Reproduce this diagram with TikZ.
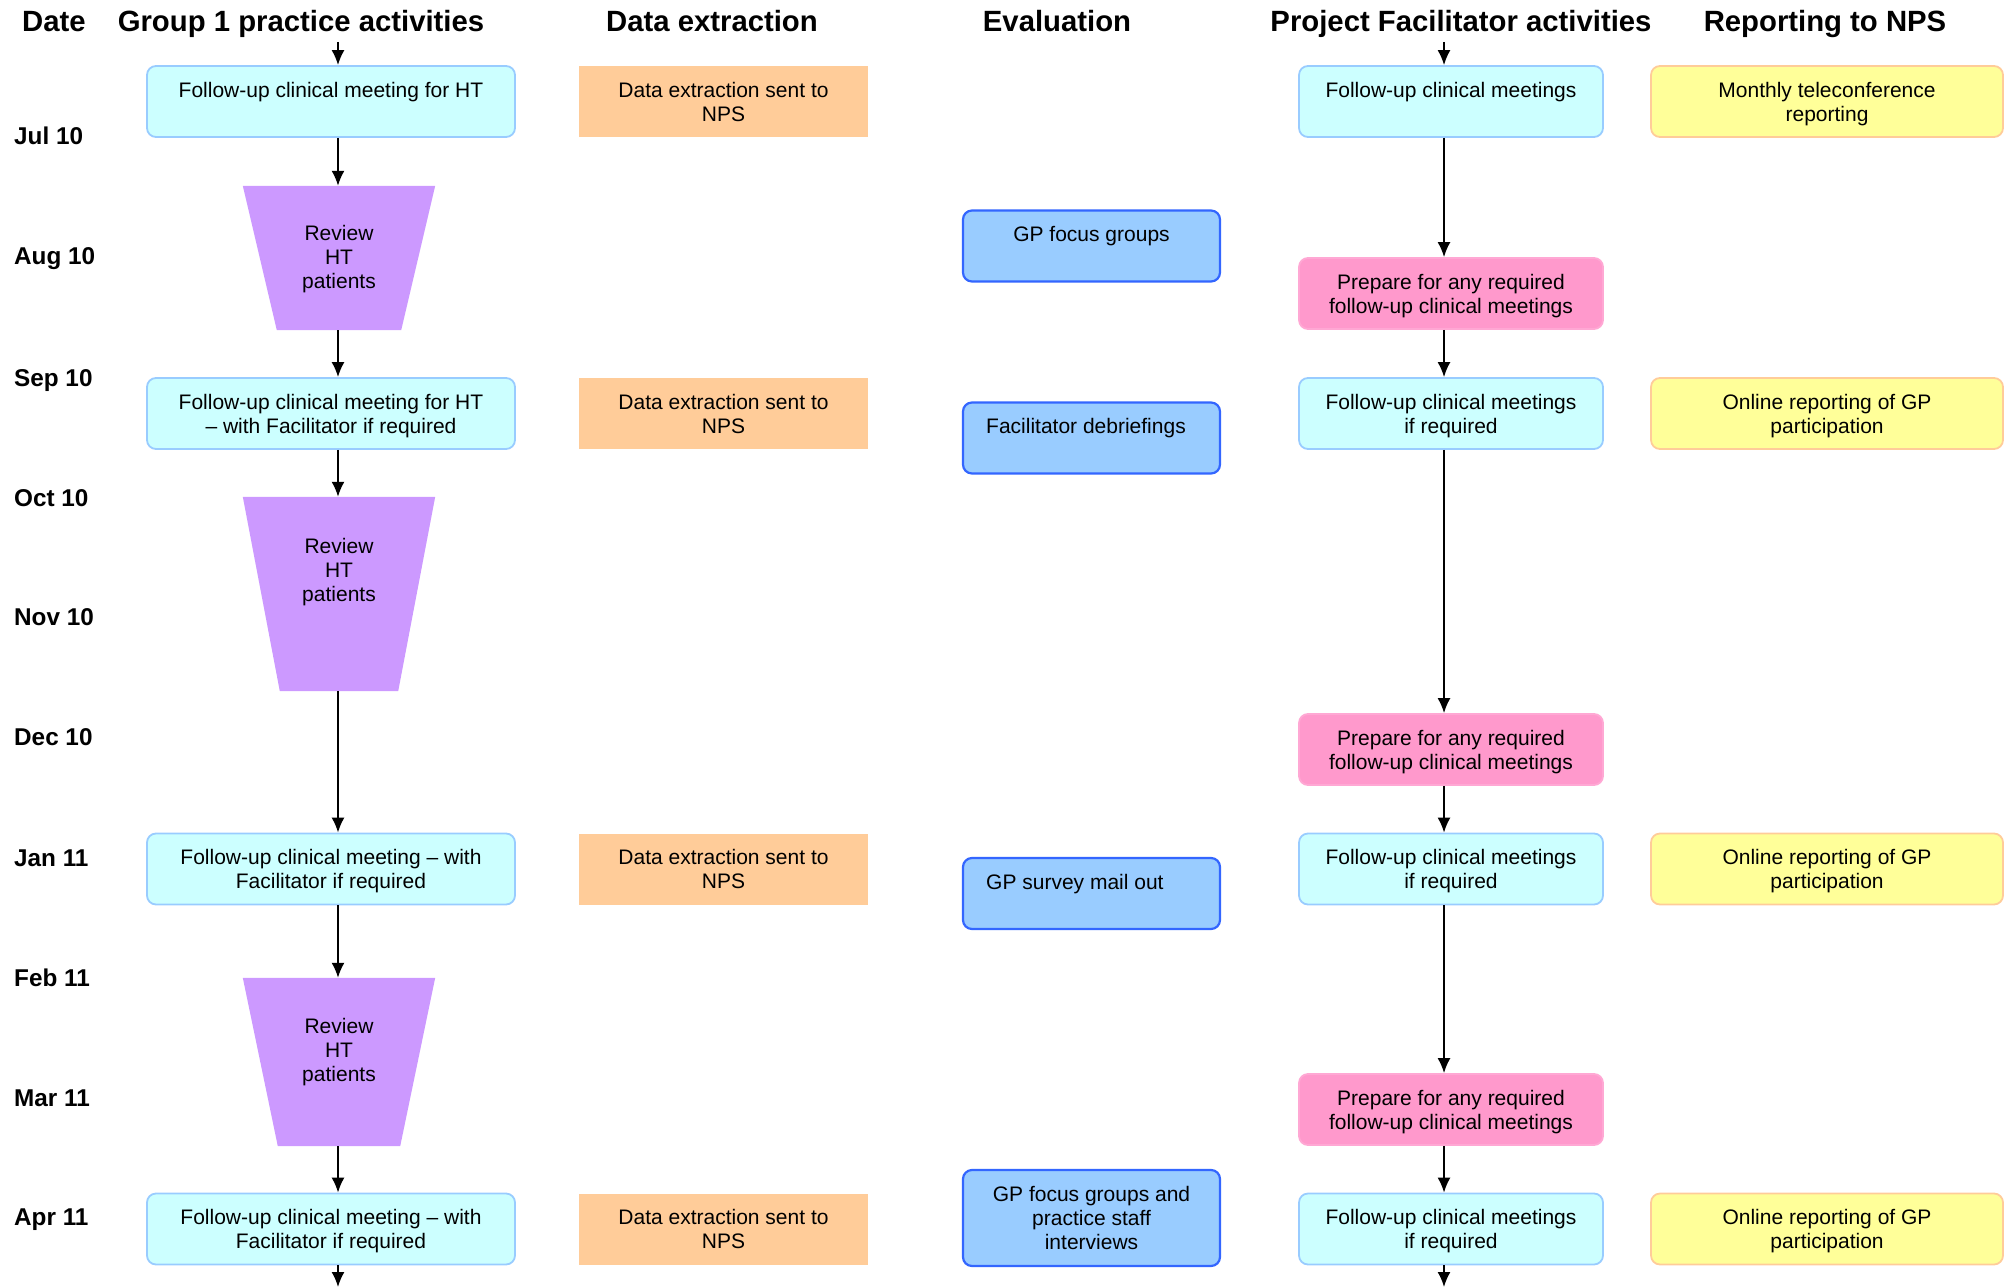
\documentclass[tikz,border=0pt]{standalone}
\usepackage{fontspec}
\setmainfont{Liberation Sans}
\usetikzlibrary{arrows.meta}
\definecolor{cyanfill}{HTML}{CCFFFF}
\definecolor{cyanedge}{HTML}{99CCFF}
\definecolor{orangefill}{HTML}{FFCC99}
\definecolor{pinkfill}{HTML}{FF99CC}
\definecolor{pinkedge}{HTML}{FFA8D4}
\definecolor{bluefill}{HTML}{99CCFF}
\definecolor{blueedge}{HTML}{3366FF}
\definecolor{yellowfill}{HTML}{FFFF99}
\definecolor{yellowedge}{HTML}{FFCC99}
\definecolor{purplefill}{HTML}{CC99FF}
\tikzset{
  txt/.style={align=center, font=\fontsize{21}{24}\selectfont, inner sep=0pt, text depth=-2pt},
  boxbase/.style={txt, minimum height=71pt, rounded corners=9pt, line width=1.8pt},
  grpbox/.style={boxbase, draw=cyanedge, fill=cyanfill, minimum width=368pt},
  databox/.style={txt, fill=orangefill, minimum width=289pt, minimum height=71pt},
  evalbox/.style={boxbase, draw=blueedge, fill=bluefill, minimum width=257pt, line width=2.2pt},
  pfbox/.style={boxbase, draw=cyanedge, fill=cyanfill, minimum width=304pt},
  prepbox/.style={boxbase, draw=pinkedge, fill=pinkfill, minimum width=304pt},
  repbox/.style={boxbase, draw=yellowedge, fill=yellowfill, minimum width=352pt},
  trapframe/.style={inner sep=0pt, minimum width=192pt},
  trapfill/.style={fill=purplefill},
  header/.style={anchor=base, inner sep=0pt, font=\fontsize{29.3}{32}\selectfont\bfseries},
  datelbl/.style={anchor=base west, inner sep=0pt, font=\fontsize{24.3}{28}\selectfont\bfseries},
  arr/.style={-{Latex[length=15pt,width=13pt]}, line width=1.7pt, black},
}
\begin{document}
\begin{tikzpicture}[x=1pt,y=-1pt]
\useasboundingbox (0,0) rectangle (2007,1287);

% headers
\node[header] (hdate) at (54,32) {Date};
\node[header] (hgrp) at (301,32) {Group 1 practice activities};
\node[header] (hdata) at (712,32) {Data extraction};
\node[header] (heval) at (1057,32) {Evaluation};
\node[header] (hpf) at (1461,32) {Project Facilitator activities};
\node[header] (hrep) at (1825,32) {Reporting to NPS};

% dates
\node[datelbl] (d1) at (14,145) {Jul 10};
\node[datelbl] (d2) at (14,264) {Aug 10};
\node[datelbl] (d3) at (14,386) {Sep 10};
\node[datelbl] (d4) at (14,506) {Oct 10};
\node[datelbl] (d5) at (14,625) {Nov 10};
\node[datelbl] (d6) at (14,745) {Dec 10};
\node[datelbl] (d7) at (14,866) {Jan 11};
\node[datelbl] (d8) at (14,986) {Feb 11};
\node[datelbl] (d9) at (14,1106) {Mar 11};
\node[datelbl] (d10) at (14,1225) {Apr 11};

% column axes
\coordinate (gx) at (338,0);
\coordinate (px) at (1444,0);
\coordinate (gtop) at (338,42);
\coordinate (gbot) at (338,1287);
\coordinate (ptop) at (1444,42);
\coordinate (pbot) at (1444,1287);

% Group 1 column
\node[grpbox] (g1) at (331,101.5) {Follow-up clinical meeting for HT\\\mbox{}};
\node[grpbox] (g2) at (331,413.5) {Follow-up clinical meeting for HT\\– with Facilitator if required};
\node[grpbox] (g3) at (331,869) {Follow-up clinical meeting – with\\Facilitator if required};
\node[grpbox] (g4) at (331,1229) {Follow-up clinical meeting – with\\Facilitator if required};

% trapezoids
\node[trapframe, minimum height=144pt] (t1) at (339,258) {};
\fill[trapfill] (t1.north west) -- (t1.north east) -- ([xshift=-34pt]t1.south east) -- ([xshift=34pt]t1.south west) -- cycle;
\node[txt] (t1t) at (339,257) {Review\\HT\\patients};

\node[trapframe, minimum height=194pt] (t2) at (339,594) {};
\fill[trapfill] (t2.north west) -- (t2.north east) -- ([xshift=-37pt]t2.south east) -- ([xshift=37pt]t2.south west) -- cycle;
\node[txt] (t2t) at (339,570) {Review\\HT\\patients};

\node[trapframe, minimum height=168pt] (t3) at (339,1062) {};
\fill[trapfill] (t3.north west) -- (t3.north east) -- ([xshift=-35pt]t3.south east) -- ([xshift=35pt]t3.south west) -- cycle;
\node[txt] (t3t) at (339,1050) {Review\\HT\\patients};

% Data extraction
\node[databox] (x1) at (723.5,101.5) {Data extraction sent to\\NPS};
\node[databox] (x2) at (723.5,413.5) {Data extraction sent to\\NPS};
\node[databox] (x3) at (723.5,869) {Data extraction sent to\\NPS};
\node[databox] (x4) at (723.5,1229) {Data extraction sent to\\NPS};

% Evaluation
\node[evalbox] (e1) at (1091.5,246) {GP focus groups\\\mbox{}};
\node[evalbox] (e2) at (1091.5,438) {};
\node[txt, anchor=west] (e2t) at (986,438) {Facilitator debriefings\\\mbox{}};
\node[evalbox] (e3) at (1091.5,893.5) {};
\node[txt, anchor=west] (e3t) at (986,893.5) {GP survey mail out\\\mbox{}};
\node[evalbox, minimum height=96pt] (e4) at (1091.5,1218) {GP focus groups and\\practice staff\\interviews};

% Project Facilitator
\node[pfbox] (p1) at (1451,101.5) {Follow-up clinical meetings\\\mbox{}};
\node[prepbox] (q1) at (1451,293.5) {Prepare for any required\\follow-up clinical meetings};
\node[pfbox] (p2) at (1451,413.5) {Follow-up clinical meetings\\if required};
\node[prepbox] (q2) at (1451,749.5) {Prepare for any required\\follow-up clinical meetings};
\node[pfbox] (p3) at (1451,869) {Follow-up clinical meetings\\if required};
\node[prepbox] (q3) at (1451,1109.5) {Prepare for any required\\follow-up clinical meetings};
\node[pfbox] (p4) at (1451,1229) {Follow-up clinical meetings\\if required};

% Reporting
\node[repbox] (r1) at (1827,101.5) {Monthly teleconference\\reporting};
\node[repbox] (r2) at (1827,413.5) {Online reporting of GP\\participation};
\node[repbox] (r3) at (1827,869) {Online reporting of GP\\participation};
\node[repbox] (r4) at (1827,1229) {Online reporting of GP\\participation};

% Group arrows
\draw[arr] (gtop) -- (g1.north -| gtop);
\draw[arr] (g1.south -| gx) -- (t1.north -| gx);
\draw[arr] (t1.south -| gx) -- (g2.north -| gx);
\draw[arr] (g2.south -| gx) -- (t2.north -| gx);
\draw[arr] (t2.south -| gx) -- (g3.north -| gx);
\draw[arr] (g3.south -| gx) -- (t3.north -| gx);
\draw[arr] (t3.south -| gx) -- (g4.north -| gx);
\draw[arr] (g4.south -| gx) -- (gbot);

% PF arrows
\draw[arr] (ptop) -- (p1.north -| ptop);
\draw[arr] (p1.south -| px) -- (q1.north -| px);
\draw[arr] (q1.south -| px) -- (p2.north -| px);
\draw[arr] (p2.south -| px) -- (q2.north -| px);
\draw[arr] (q2.south -| px) -- (p3.north -| px);
\draw[arr] (p3.south -| px) -- (q3.north -| px);
\draw[arr] (q3.south -| px) -- (p4.north -| px);
\draw[arr] (p4.south -| px) -- (pbot);
\end{tikzpicture}
\end{document}
